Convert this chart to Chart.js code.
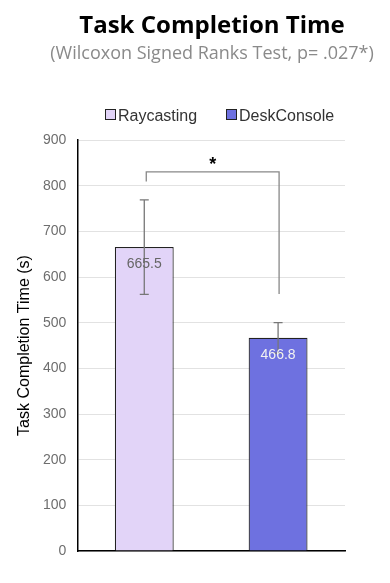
<!DOCTYPE html>
<html>
<head>
<meta charset="utf-8">
<script src="https://cdn.jsdelivr.net/npm/chart.js@4.4.0/dist/chart.umd.min.js"></script>
<style>
  html, body { margin: 0; padding: 0; background: #fff; }
  #wrap { position: relative; width: 390px; height: 583px; }
</style>
</head>
<body>
<div id="wrap"><canvas id="grafico" width="390" height="583"></canvas></div>
<script>
// datos
var categorias = ['Raycasting', 'DeskConsole'];
var medias = [665.5, 466.8];
var errores = [103.5, 33.5];
var ticksY = [0, 100, 200, 300, 400, 500, 600, 700, 800, 900];
var colores = ['#e2d4f8', '#6e71e0'];
var titulo = 'Task Completion Time';
var subtitulo = '(Wilcoxon Signed Ranks Test, p= .027*)';
var tituloEje = 'Task Completion Time (s)';
// corchete de significancia: altura, extremo izq, extremo der
var corchete = [830, 809, 563];

var extras = {
    id: 'extras',
    afterDraw: function (chart) {
        var ctx = chart.ctx;
        var x = chart.scales.x, y = chart.scales.y;
        var area = chart.chartArea;
        ctx.save();

        // titulos
        ctx.textAlign = 'center';
        ctx.textBaseline = 'alphabetic';
        ctx.fillStyle = '#000';
        ctx.font = 'bold 24px "Open Sans"';
        ctx.fillText(titulo, 212, 33);
        ctx.fillStyle = '#8a8a8a';
        ctx.font = '18px "Open Sans"';
        ctx.fillText(subtitulo, 212, 59);

        // leyenda
        ctx.font = '16px "Liberation Sans", Arial';
        ctx.textAlign = 'left';
        var lx = [105, 226];
        categorias.forEach(function (c, i) {
            ctx.fillStyle = colores[i];
            ctx.fillRect(lx[i] + 0.5, 109.5, 10, 10);
            ctx.strokeStyle = '#222';
            ctx.lineWidth = 1;
            ctx.strokeRect(lx[i] + 0.5, 109.5, 10, 10);
            ctx.fillStyle = '#333';
            ctx.fillText(c, lx[i] + 13, 121);
        });

        // titulo del eje
        ctx.save();
        ctx.translate(29, (area.top + area.bottom) / 2);
        ctx.rotate(-Math.PI / 2);
        ctx.textAlign = 'center';
        ctx.fillStyle = '#000';
        ctx.font = '16px "Liberation Sans", Arial';
        ctx.fillText(tituloEje, 0, 0);
        ctx.restore();

        // barras de error
        ctx.strokeStyle = '#777';
        ctx.lineWidth = 1.3;
        medias.forEach(function (m, i) {
            var cx = x.getPixelForValue(i);
            var t = y.getPixelForValue(m + errores[i]);
            var b = y.getPixelForValue(m - errores[i]);
            ctx.beginPath();
            ctx.moveTo(cx, t); ctx.lineTo(cx, b);
            ctx.moveTo(cx - 4.5, t); ctx.lineTo(cx + 4.5, t);
            ctx.moveTo(cx - 4.5, b); ctx.lineTo(cx + 4.5, b);
            ctx.stroke();
        });

        // etiquetas de valor
        ctx.font = '14px "Liberation Sans", Arial';
        ctx.textAlign = 'center';
        ctx.textBaseline = 'middle';
        var colTexto = ['#666', '#f2f2f2'];
        medias.forEach(function (m, i) {
            ctx.fillStyle = colTexto[i];
            ctx.fillText(m.toFixed(1), x.getPixelForValue(i), y.getPixelForValue(m) + 17);
        });

        // corchete
        var x1 = x.getPixelForValue(0) + 2, x2 = x.getPixelForValue(1) + 1;
        ctx.strokeStyle = '#888';
        ctx.lineWidth = 1.3;
        ctx.beginPath();
        ctx.moveTo(x1, y.getPixelForValue(corchete[1]));
        ctx.lineTo(x1, y.getPixelForValue(corchete[0]));
        ctx.lineTo(x2, y.getPixelForValue(corchete[0]));
        ctx.lineTo(x2, y.getPixelForValue(corchete[2]));
        ctx.stroke();
        ctx.fillStyle = '#000';
        ctx.font = 'bold 18px "Liberation Sans", Arial';
        ctx.textBaseline = 'alphabetic';
        ctx.fillText('*', (x1 + x2) / 2, y.getPixelForValue(corchete[0]) - 2);

        ctx.restore();
    }
};

var ctx = document.getElementById('grafico').getContext('2d');
new Chart(ctx, {
    type: 'bar',
    data: {
        labels: categorias,
        datasets: [{
            label: titulo,
            data: medias,
            backgroundColor: colores,
            borderColor: '#222',
            borderWidth: 1.2,
            barPercentage: 0.44,
            categoryPercentage: 1
        }]
    },
    options: {
        responsive: false,
        animation: false,
        devicePixelRatio: 1,
        layout: { padding: { top: 140, left: 32, right: 45, bottom: 32 } },
        plugins: {
            legend: { display: false },
            title: { display: false },
            tooltip: { enabled: false }
        },
        scales: {
            x: {
                ticks: { display: false },
                grid: { display: false, drawTicks: false },
                border: { color: '#000', width: 1.5 }
            },
            y: {
                min: 0,
                max: 900,
                afterBuildTicks: function (s) {
                    s.ticks = ticksY.map(function (v) { return { value: v }; });
                },
                ticks: {
                    color: '#6e6e6e',
                    padding: 11,
                    font: { family: '"Liberation Sans", Arial', size: 14 }
                },
                grid: { color: '#e2e2e2', drawTicks: false },
                border: { color: '#000', width: 1.5 }
            }
        }
    },
    plugins: [extras]
});
</script>
</body>
</html>
